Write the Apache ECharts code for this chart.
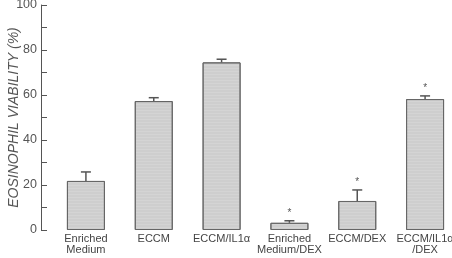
<!DOCTYPE html>
<html><head><meta charset="utf-8">
<script src="https://cdn.jsdelivr.net/npm/echarts@6/dist/echarts.min.js"></script>
<style>html,body{margin:0;padding:0;background:#fff}#c{width:452px;height:258px}</style>
</head><body><div id="c"></div>
<script>
const categories = ['Enriched\nMedium', 'ECCM', 'ECCM/IL1α', 'Enriched\nMedium/DEX', 'ECCM/DEX', 'ECCM/IL1α\n/DEX'];
const viability = [21.8, 57.3, 74.5, 3.2, 12.9, 58.2];
const errorUpper = [25.8, 58.8, 75.9, 4.1, 17.8, 59.6];
const significant = [false, false, false, true, true, true];
const yTicks = [0, 20, 40, 60, 80, 100];

const chart = echarts.init(document.getElementById('c'), null, {renderer: 'canvas'});
const font = 'Liberation Sans';
chart.setOption({
  animation: false,
  grid: {left: 52, right: -7, top: 5, bottom: 28, outerBoundsMode: 'none', containLabel: false},
  xAxis: {
    type: 'category', data: categories,
    axisLine: {show: false}, axisTick: {show: false},
    axisLabel: {color: '#444', fontFamily: font, fontSize: 11, lineHeight: 11.5, margin: 3, interval: 0}
  },
  yAxis: {
    type: 'value', min: 0, max: 100, interval: 10, offset: 11,
    axisLine: {show: true, lineStyle: {color: '#555', width: 1}},
    axisTick: {show: true, inside: true, length: 6, lineStyle: {color: '#555'}},
    splitLine: {show: false},
    axisLabel: {color: '#555', fontFamily: font, fontSize: 12.5, margin: 4,
      formatter: v => yTicks.includes(v) ? String(v) : ''},
    name: 'EOSINOPHIL VIABILITY (%)', nameLocation: 'middle', nameGap: 20, nameMoveOverlap: false,
    nameTextStyle: {color: '#555', fontFamily: font, fontSize: 14, fontStyle: 'italic'}
  },
  series: [
    {
      type: 'bar', data: viability, barWidth: 38,
      itemStyle: {color: '#d4d4d4', borderColor: '#666', borderWidth: 1,
        decal: {symbol: 'rect', symbolSize: 0.5, dashArrayX: [1, 0], dashArrayY: [2, 1], color: 'rgba(140,140,140,0.35)'}}
    },
    {
      type: 'custom',
      data: categories.map((c, i) => [i, viability[i], errorUpper[i], significant[i] ? 1 : 0]),
      encode: {x: 0, y: [1, 2]},
      z: 5,
      renderItem: (params, api) => {
        const x = api.value(0);
        const p0 = api.coord([x, api.value(1)]);
        const p1 = api.coord([x, api.value(2)]);
        const children = [
          {type: 'line', shape: {x1: p0[0], y1: p0[1], x2: p1[0], y2: p1[1]}, style: {stroke: '#555', lineWidth: 1.5}},
          {type: 'line', shape: {x1: p1[0] - 5, y1: p1[1], x2: p1[0] + 5, y2: p1[1]}, style: {stroke: '#555', lineWidth: 1.5}}
        ];
        if (api.value(3)) {
          children.push({type: 'text', style: {text: '*', x: p1[0], y: p1[1] - 3, align: 'center', verticalAlign: 'bottom', fill: '#555', font: '10px Liberation Sans'}});
        }
        return {type: 'group', children};
      }
    }
  ]
});
</script></body></html>
